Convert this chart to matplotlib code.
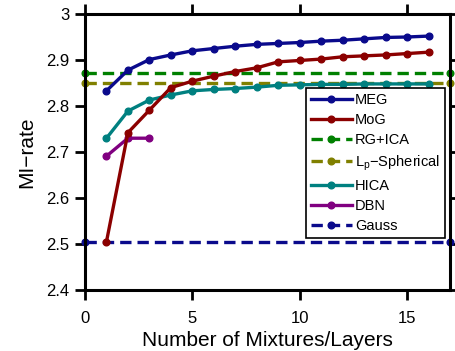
import numpy as np
import matplotlib
matplotlib.use("Agg")
import matplotlib.pyplot as plt

plt.rcParams['font.family'] = ['Liberation Sans', 'DejaVu Sans']
plt.rcParams['mathtext.fontset'] = 'custom'
plt.rcParams['mathtext.rm'] = 'Liberation Sans'
plt.rcParams['mathtext.it'] = 'Liberation Sans'

# Data
n_mix = np.arange(1, 17)
meg = [2.833, 2.878, 2.901, 2.911, 2.920, 2.925, 2.930, 2.934,
       2.936, 2.938, 2.941, 2.943, 2.946, 2.949, 2.950, 2.952]
mog = [2.505, 2.742, 2.791, 2.840, 2.854, 2.865, 2.875, 2.883,
       2.896, 2.899, 2.902, 2.907, 2.909, 2.911, 2.914, 2.917]
hica = [2.730, 2.789, 2.813, 2.824, 2.833, 2.836, 2.838, 2.841,
        2.845, 2.846, 2.847, 2.847, 2.848, 2.848, 2.848, 2.848]
dbn_layers = [1, 2, 3]
dbn = [2.691, 2.730, 2.730]
rg_ica = 2.871
lp_spherical = 2.851
gauss = 2.505
x_span = [0, 17]

fig = plt.figure(figsize=(4.56, 3.51), dpi=100)
ax = fig.add_axes([0.1864, 0.1738, 0.8004, 0.7863])

lw = 2.4
ms = 4.8
dash = (3.4, 1.8)
ax.plot(n_mix, meg, '-o', color='#0a0a8c', lw=lw, ms=ms, label='MEG', zorder=5)
ax.plot(n_mix, mog, '-o', color='#8b0000', lw=lw, ms=ms, label='MoG', zorder=4)
ax.plot(x_span, [rg_ica] * 2, '--o', color='#008000', lw=lw, ms=ms, label='RG+ICA',
        dashes=dash, clip_on=False)
ax.plot(x_span, [lp_spherical] * 2, '--o', color='#808000', lw=lw, ms=ms,
        label=r'$\mathregular{L_p}$−Spherical', dashes=dash, clip_on=False)
ax.plot(n_mix, hica, '-o', color='#008080', lw=lw, ms=ms, label='HICA', zorder=3)
ax.plot(dbn_layers, dbn, '-o', color='#800080', lw=lw, ms=ms, label='DBN')
ax.plot(x_span, [gauss] * 2, '--o', color='#0a0a8c', lw=lw, ms=ms, label='Gauss',
        dashes=dash, clip_on=False)

ax.set_xlim(0, 17)
ax.set_ylim(2.4, 3.0)
ax.set_xticks([0, 5, 10, 15])
ax.set_yticks([2.4, 2.5, 2.6, 2.7, 2.8, 2.9, 3.0])
ax.set_yticklabels(['2.4', '2.5', '2.6', '2.7', '2.8', '2.9', '3'])

for s in ax.spines.values():
    s.set_linewidth(2.2)
ax.tick_params(direction='out', length=7, width=2, labelsize=12,
               top=True, right=True, pad=4)
ax.tick_params(axis='x', pad=8)

ax.set_xlabel('Number of Mixtures/Layers', fontsize=15, labelpad=4)
ax.set_ylabel('MI−rate', fontsize=15, labelpad=7)

leg = ax.legend(loc='lower right', bbox_to_anchor=(0.986, 0.188), fontsize=10.5,
                handlelength=2.8, labelspacing=0.42, borderpad=0.35,
                handletextpad=0.2, fancybox=False, framealpha=1,
                edgecolor='black', borderaxespad=0)
leg.get_frame().set_linewidth(1.2)

fig.savefig('out.png', dpi=100)
